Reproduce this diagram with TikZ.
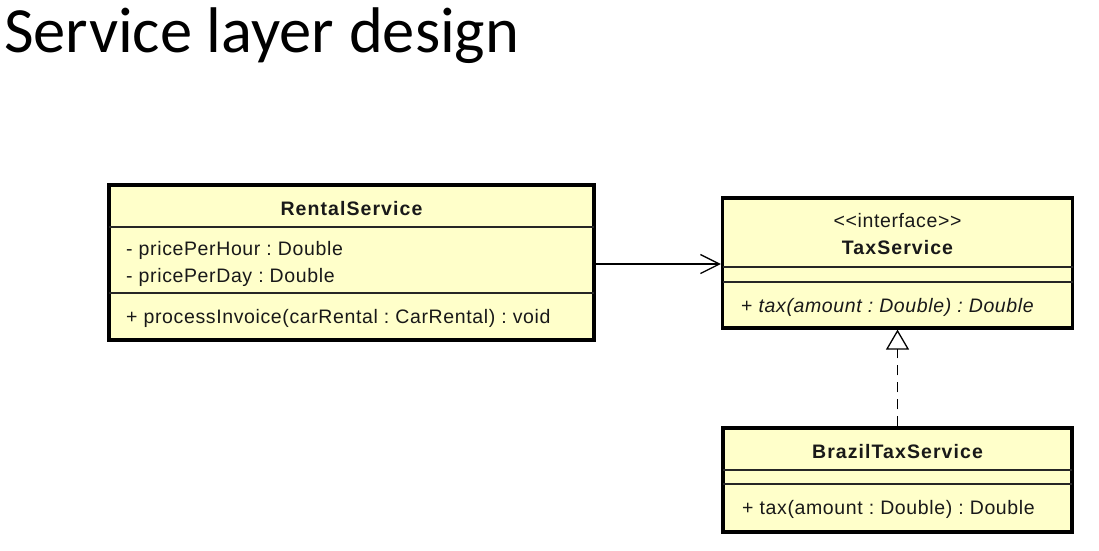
\documentclass[tikz,border=0pt]{standalone}
\usepackage{fontspec}
\setmainfont{Liberation Sans}[LetterSpace=3.2, BoldFeatures={LetterSpace=5.5}, ItalicFeatures={LetterSpace=3.2}]
\newfontfamily\titlefont{Carlito}
\usetikzlibrary{arrows.meta}
\definecolor{umlfill}{RGB}{255,255,202}
\frenchspacing
\tikzset{
  umlbox/.style={draw=black, fill=umlfill, line width=3.2pt, rectangle, inner sep=0pt},
  sepline/.style={line width=1.2pt, draw=black!85},
  txt/.style={inner sep=0pt, font=\fontsize{19.5}{22}\selectfont, text=black!90},
  btxt/.style={txt, font=\fontsize{19.5}{22}\selectfont\bfseries},
  assoc/.style={line width=1.3pt, -{Straight Barb[length=19pt, width=19pt, line width=1.3pt]}},
  realize/.style={line width=1.3pt, dash pattern=on 10pt off 7pt, -{Triangle[open, length=20pt, width=23pt, line width=1.3pt, fill=white]}}
}
\begin{document}
\begin{tikzpicture}[x=1pt, y=-1pt]
\useasboundingbox[fill=white] (0,0) rectangle (1099,550);
% title
\node[anchor=base west, inner sep=0pt, font=\titlefont\fontsize{64.5}{70}\selectfont] (title) at (4,52) {Service layer design};

% RentalService
\node[umlbox, minimum width=485pt, minimum height=155pt] (rs) at (351.5,262.5) {};
\draw[sepline] (109,227) -- (594,227);
\draw[sepline] (109,293) -- (594,293);
\node[btxt, anchor=base] (rsname) at (351.5,215) {RentalService};
\node[txt, anchor=base west] (rsa1) at (126,255) {- pricePerHour : Double};
\node[txt, anchor=base west] (rsa2) at (126,282) {- pricePerDay : Double};
\node[txt, anchor=base west] (rsm1) at (126,323) {+ processInvoice(carRental : CarRental) : void};

% TaxService
\node[umlbox, minimum width=350pt, minimum height=130pt] (ts) at (897.5,263) {};
\draw[sepline] (722.5,267) -- (1072.5,267);
\draw[sepline] (722.5,282) -- (1072.5,282);
\node[txt, anchor=base] (tsst) at (897.5,227) {{<}{<}interface{>}{>}};
\node[btxt, anchor=base] (tsname) at (897.5,254) {TaxService};
\node[txt, anchor=base west] (tsm1) at (741,312) {+ \textit{tax(amount : Double) : Double}};

% BrazilTaxService
\node[umlbox, minimum width=349pt, minimum height=104pt] (bts) at (897.5,480) {};
\draw[sepline] (723,470) -- (1072,470);
\draw[sepline] (723,484) -- (1072,484);
\node[btxt, anchor=base] (btsname) at (897.5,458) {BrazilTaxService};
\node[txt, anchor=base west] (btsm1) at (742,514) {+ tax(amount : Double) : Double};

% connectors
\draw[assoc] (rs.east |- 0,264) -- (ts.west |- 0,264);
\draw[realize] (bts.north) -- (ts.south);
\end{tikzpicture}
\end{document}
